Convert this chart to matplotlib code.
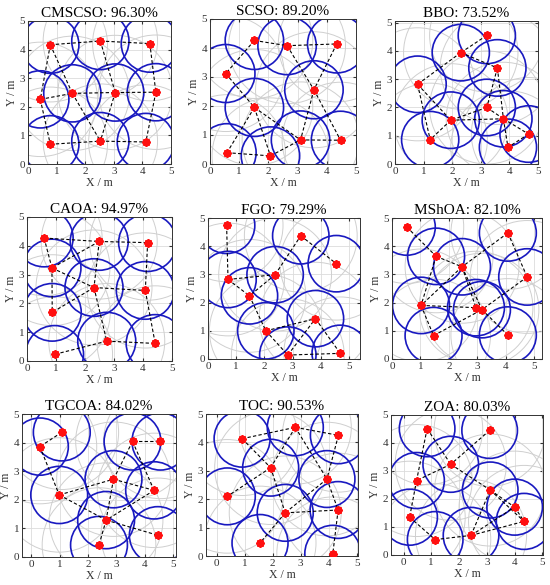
import numpy as np
import matplotlib
matplotlib.use('Agg')
import matplotlib.pyplot as plt
from matplotlib.patches import Circle

plt.rcParams['font.family'] = ['Liberation Serif', 'DejaVu Serif']

titles = ['CMSCSO: 96.30%', 'SCSO: 89.20%', 'BBO: 73.52%',
          'CAOA: 94.97%', 'FGO: 79.29%', 'MShOA: 82.10%',
          'TGCOA: 84.02%', 'TOC: 90.53%', 'ZOA: 80.03%']

# node positions (x, y) per algorithm
cmscso_x = [0.78, 2.53, 4.26, 0.43, 1.55, 3.05, 4.47, 0.78, 2.53, 4.12]
cmscso_y = [4.17, 4.30, 4.21, 2.26, 2.47, 2.50, 2.51, 0.69, 0.80, 0.77]
scso_x = [1.52, 2.64, 4.34, 0.54, 3.56, 1.52, 3.10, 4.47, 0.58, 2.07]
scso_y = [4.26, 4.08, 4.14, 3.12, 2.56, 1.95, 0.83, 0.82, 0.39, 0.28]
bbo_x = [3.21, 2.30, 3.58, 0.79, 3.21, 1.95, 3.79, 4.67, 1.23, 3.95]
bbo_y = [4.55, 3.94, 3.40, 2.82, 2.00, 1.55, 1.60, 1.06, 0.86, 0.59]
caoa_x = [0.59, 2.49, 4.16, 0.86, 2.31, 4.08, 0.87, 2.75, 4.42, 0.95]
caoa_y = [4.27, 4.15, 4.11, 3.23, 2.55, 2.45, 1.69, 0.69, 0.61, 0.23]
fgo_x = [0.66, 3.29, 4.55, 0.71, 2.38, 1.47, 3.81, 2.05, 2.83, 4.69]
fgo_y = [4.74, 4.37, 3.38, 2.82, 2.99, 2.24, 1.43, 1.00, 0.14, 0.20]
mshoa_x = [0.52, 4.07, 1.55, 2.46, 4.75, 1.02, 2.95, 3.16, 1.46, 4.07]
mshoa_y = [4.68, 4.47, 3.64, 3.27, 2.91, 1.90, 1.82, 1.75, 0.83, 0.85]
tgcoa_x = [1.08, 0.31, 3.57, 4.55, 2.90, 4.33, 0.99, 2.64, 4.46, 2.39]
tgcoa_y = [4.36, 3.86, 4.04, 4.04, 2.72, 2.33, 2.17, 1.29, 0.76, 0.42]
toc_x = [0.91, 2.81, 4.35, 1.93, 3.94, 0.38, 4.34, 2.45, 1.55, 4.15]
toc_y = [4.13, 4.53, 4.25, 3.11, 2.71, 2.10, 1.62, 1.52, 0.46, 0.08]
zoa_x = [0.85, 3.10, 1.70, 0.47, 3.12, 4.00, 0.22, 4.34, 1.14, 2.43]
zoa_y = [4.51, 4.45, 3.24, 2.66, 2.32, 1.71, 1.35, 1.20, 0.55, 0.70]

# dashed links between nodes (1-based node numbers)
cmscso_links = [(1, 2), (2, 3), (1, 4), (1, 5), (2, 6), (3, 7), (4, 5), (5, 6), (6, 7),
                (4, 8), (5, 9), (6, 9), (8, 9), (9, 10), (7, 10)]
scso_links = [(1, 2), (2, 3), (1, 4), (2, 5), (3, 5), (4, 6), (6, 7), (5, 7), (5, 8),
              (6, 9), (6, 10), (9, 10), (10, 7), (7, 8)]
bbo_links = [(1, 2), (2, 3), (2, 4), (4, 6), (4, 9), (6, 9), (3, 5), (3, 7), (5, 6),
             (6, 7), (5, 7), (7, 8), (7, 10), (8, 10)]
caoa_links = [(1, 2), (2, 3), (1, 4), (2, 4), (4, 5), (2, 5), (5, 6), (3, 6), (4, 7),
              (5, 7), (5, 8), (6, 9), (8, 9), (8, 10)]
fgo_links = [(1, 4), (4, 5), (4, 6), (5, 6), (5, 2), (2, 3), (6, 8), (8, 7), (8, 9),
             (9, 7), (7, 10), (9, 10)]
mshoa_links = [(1, 3), (3, 4), (2, 4), (2, 5), (3, 6), (4, 6), (4, 7), (6, 7), (6, 9),
               (9, 8), (7, 8), (5, 8), (8, 10), (4, 8)]
tgcoa_links = [(1, 2), (2, 7), (7, 5), (7, 8), (3, 4), (3, 5), (3, 6), (5, 6), (6, 8),
               (8, 9), (8, 10), (5, 8)]
toc_links = [(1, 2), (2, 3), (1, 4), (2, 4), (3, 5), (4, 6), (4, 8), (5, 8), (5, 7),
             (8, 7), (8, 9), (7, 10), (2, 5)]
zoa_links = [(1, 3), (2, 3), (3, 4), (1, 4), (3, 5), (4, 7), (7, 9), (9, 10), (10, 5),
             (5, 6), (6, 8), (5, 8), (10, 6), (10, 8)]

xs = [cmscso_x, scso_x, bbo_x, caoa_x, fgo_x, mshoa_x, tgcoa_x, toc_x, zoa_x]
ys = [cmscso_y, scso_y, bbo_y, caoa_y, fgo_y, mshoa_y, tgcoa_y, toc_y, zoa_y]
links = [cmscso_links, scso_links, bbo_links, caoa_links, fgo_links, mshoa_links,
         tgcoa_links, toc_links, zoa_links]

x_lims = [(0, 5), (0, 5), (0, 5), (0, 5), (0, 5.39), (0, 5.27),
          (-0.32, 5.1), (-0.38, 5.05), (-0.45, 5.02)]
y_lims = [(0, 5), (0, 5), (0.05, 5.06), (0, 5), (0, 5), (0, 5),
          (0, 5), (0, 5), (0, 5)]

rs = 1.0   # sensing radius
rc = 2.0   # communication radius

# axes boxes in pixels: left, top, right, bottom
boxes = [(28, 21, 171, 164), (210, 19, 356, 164), (395, 21, 538, 164),
         (27, 217, 172, 361), (208, 218, 360, 359), (392, 218, 542, 359),
         (22, 414, 176, 557), (206, 414, 358, 556), (391, 415, 543, 555)]

W, H = 550, 585
fig = plt.figure(figsize=(W / 100, H / 100), dpi=100)

for k in range(9):
    l, t, r, b = boxes[k]
    ax = fig.add_axes([l / W, 1 - b / H, (r - l) / W, (b - t) / H])
    x = np.array(xs[k])
    y = np.array(ys[k])
    for cx, cy in zip(x, y):
        ax.add_patch(Circle((cx, cy), rc, fill=False, ec='#cfcfcf', lw=0.7, zorder=1))
    for cx, cy in zip(x, y):
        ax.add_patch(Circle((cx, cy), rs, fill=False, ec='#1919c0', lw=1.2, zorder=2))
    for i, j in links[k]:
        ax.plot([x[i - 1], x[j - 1]], [y[i - 1], y[j - 1]], color='k', lw=0.8,
                dashes=(3, 2), zorder=3)
    ax.plot(x, y, ls='none', marker=(8, 2, 0), ms=6, mew=1.4, color='#ff1010', zorder=4)
    ax.set_xlim(*x_lims[k])
    ax.set_ylim(*y_lims[k])
    ax.set_xticks(range(0, 6))
    ax.set_yticks(range(0, 6))
    ax.grid(True, color='#dcdcdc', lw=0.6)
    ax.set_axisbelow(True)
    ax.tick_params(direction='in', length=2, labelsize=8, colors='#333333',
                   top=True, right=True, pad=2)
    for s in ax.spines.values():
        s.set_color('#333333')
        s.set_linewidth(0.7)
    ax.set_title(titles[k], fontsize=11, pad=3)
    ax.set_xlabel('X / m', fontsize=8.5, labelpad=1, color='#333333')
    ax.set_ylabel('Y / m', fontsize=8.5, labelpad=1, color='#333333')

fig.savefig('out.png', dpi=100)
